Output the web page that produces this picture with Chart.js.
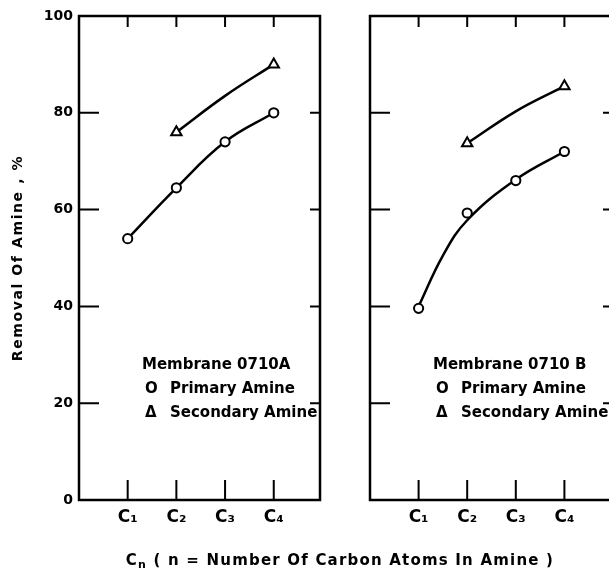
<!DOCTYPE html>
<html>
<head>
<meta charset="utf-8">
<script src="https://cdn.jsdelivr.net/npm/chart.js@4.4.1/dist/chart.umd.min.js"></script>
<style>
  html, body { margin:0; padding:0; background:#fff; }
  body { width:609px; height:573px; overflow:hidden; position:relative; font-family:"DejaVu Sans", sans-serif; font-weight:bold; color:#000; }
  .panel { position:absolute; top:0; height:573px; }
  .legend { position:absolute; font-size:15px; line-height:24px; white-space:nowrap; }
  .legend .sym { display:inline-block; width:28px; padding-left:3px; box-sizing:border-box; }
  #ytitle { position:absolute; left:-113px; top:248px; width:260px; height:20px; line-height:20px; font-size:14px; text-align:center; letter-spacing:1.6px; transform:rotate(-90deg); white-space:nowrap; }
  #xtitle { position:absolute; left:90px; top:550px; width:500px; height:20px; line-height:20px; font-size:15px; text-align:center; letter-spacing:1.2px; white-space:nowrap; }
  #xtitle sub { font-size:11px; vertical-align:-3px; }
</style>
</head>
<body>
<div class="panel" id="pa" style="left:0;width:330px;"><canvas id="ca"></canvas></div>
<div class="panel" id="pb" style="left:330px;width:295px;"><canvas id="cb"></canvas></div>

<div id="ytitle">Removal Of Amine , %</div>
<div id="xtitle">C<sub>n</sub> ( n = Number Of Carbon Atoms In Amine )</div>

<div class="legend" style="left:142px;top:352px;">
  <div>Membrane 0710A</div>
  <div><span class="sym">O</span>Primary Amine</div>
  <div><span class="sym">Δ</span>Secondary Amine</div>
</div>
<div class="legend" style="left:433px;top:352px;">
  <div>Membrane 0710 B</div>
  <div><span class="sym">O</span>Primary Amine</div>
  <div><span class="sym">Δ</span>Secondary Amine</div>
</div>

<script>
// ---- data ----
const categories = ['C₁', 'C₂', 'C₃', 'C₄'];
const carbonN = [1, 2, 3, 4];
const yTickValues = [0, 20, 40, 60, 80, 100];
const innerYTicks = [20, 40, 60, 80];

// Membrane 0710 A (markers)
const primaryA = [54, 64.5, 74, 80];
const secondaryA = [null, 76, null, 90];
// Membrane 0710 A (drawn smooth curves)
const curveAx = [1, 2, 3, 4];
const primaryACurve = [54, 64.5, 74, 80];
const secondaryACurve = [null, 76, 83.5, 90];

// Membrane 0710 B (markers)
const primaryB = [39.6, 59.3, 66, 72];
const secondaryB = [null, 73.7, null, 85.5];
// Membrane 0710 B (drawn smooth curves)
const curveBx = [1, 1.5, 2, 3, 4];
const primaryBCurve = [40, 50.5, 57.8, 66.2, 72];
const secondaryBCurve = [null, null, 73.7, 80.3, 85.5];

function pts(xs, vals) {
  const out = [];
  vals.forEach((v, i) => { if (v !== null) out.push({ x: xs[i], y: v }); });
  return out;
}

const framePlugin = {
  id: 'frame',
  afterDatasetsDraw(chart) {
    const { ctx, chartArea: a, scales } = chart;
    const xs = scales.x, ys = scales.y;
    ctx.save();
    ctx.strokeStyle = '#000';
    ctx.lineWidth = 2.5;
    ctx.strokeRect(a.left, a.top, a.right - a.left, a.bottom - a.top);
    ctx.lineWidth = 2;
    ctx.beginPath();
    innerYTicks.forEach(v => {
      const y = ys.getPixelForValue(v);
      ctx.moveTo(a.left, y); ctx.lineTo(a.left + 20, y);
      ctx.moveTo(a.right, y); ctx.lineTo(a.right - 10, y);
    });
    carbonN.forEach(n => {
      const x = xs.getPixelForValue(n);
      ctx.moveTo(x, a.top); ctx.lineTo(x, a.top + 11);
      ctx.moveTo(x, a.bottom); ctx.lineTo(x, a.bottom - 20);
    });
    ctx.stroke();
    ctx.restore();
  }
};

function makeChart(canvasId, cfg) {
  const markerCommon = {
    showLine: false,
    borderColor: '#000',
    backgroundColor: '#fff',
    borderWidth: 2,
  };
  const curveCommon = {
    showLine: true,
    borderColor: '#000',
    borderWidth: 2.5,
    pointRadius: 0,
    tension: 0.4,
    fill: false,
  };
  return new Chart(document.getElementById(canvasId), {
    type: 'scatter',
    data: {
      datasets: [
        Object.assign({ label: 'Primary Amine', data: pts(carbonN, cfg.primary), pointStyle: 'circle', pointRadius: 4.6 }, markerCommon),
        Object.assign({ label: 'Secondary Amine', data: pts(carbonN, cfg.secondary), pointStyle: 'triangle', pointRadius: 6 }, markerCommon),
        Object.assign({ label: 'Primary curve', data: pts(cfg.curveX, cfg.primaryCurve) }, curveCommon),
        Object.assign({ label: 'Secondary curve', data: pts(cfg.curveX, cfg.secondaryCurve) }, curveCommon),
      ]
    },
    options: {
      responsive: true,
      maintainAspectRatio: false,
      animation: false,
      events: [],
      layout: { padding: { left: 0, top: 16, right: cfg.padRight, bottom: 0 } },
      plugins: { legend: { display: false }, tooltip: { enabled: false } },
      scales: {
        x: {
          type: 'linear',
          min: 0,
          max: cfg.xMax,
          grid: { display: false, drawTicks: false },
          border: { display: false },
          afterBuildTicks: s => { s.ticks = carbonN.map(v => ({ value: v })); },
          afterFit: s => { s.height = 73; },
          ticks: {
            padding: 7,
            color: '#000',
            font: { family: 'DejaVu Sans', weight: 'bold', size: 17 },
            callback: v => categories[carbonN.indexOf(v)] ?? '',
            maxRotation: 0,
            autoSkip: false,
          }
        },
        y: {
          type: 'linear',
          min: 0,
          max: 100,
          grid: { display: false, drawTicks: false },
          border: { display: false },
          afterBuildTicks: s => { s.ticks = yTickValues.map(v => ({ value: v })); },
          afterFit: s => { s.width = cfg.yWidth; },
          ticks: {
            display: cfg.showYLabels,
            padding: 6,
            color: '#000',
            font: { family: 'DejaVu Sans', weight: 'bold', size: 14 },
          }
        }
      }
    },
    plugins: [framePlugin]
  });
}

makeChart('ca', {
  primary: primaryA, secondary: secondaryA, curveX: curveAx,
  primaryCurve: primaryACurve, secondaryCurve: secondaryACurve,
  xMax: 4.95, yWidth: 79, padRight: 10, showYLabels: true
});
makeChart('cb', {
  primary: primaryB, secondary: secondaryB, curveX: curveBx,
  primaryCurve: primaryBCurve, secondaryCurve: secondaryBCurve,
  xMax: 5, yWidth: 40, padRight: 12, showYLabels: false
});
</script>
</body>
</html>
